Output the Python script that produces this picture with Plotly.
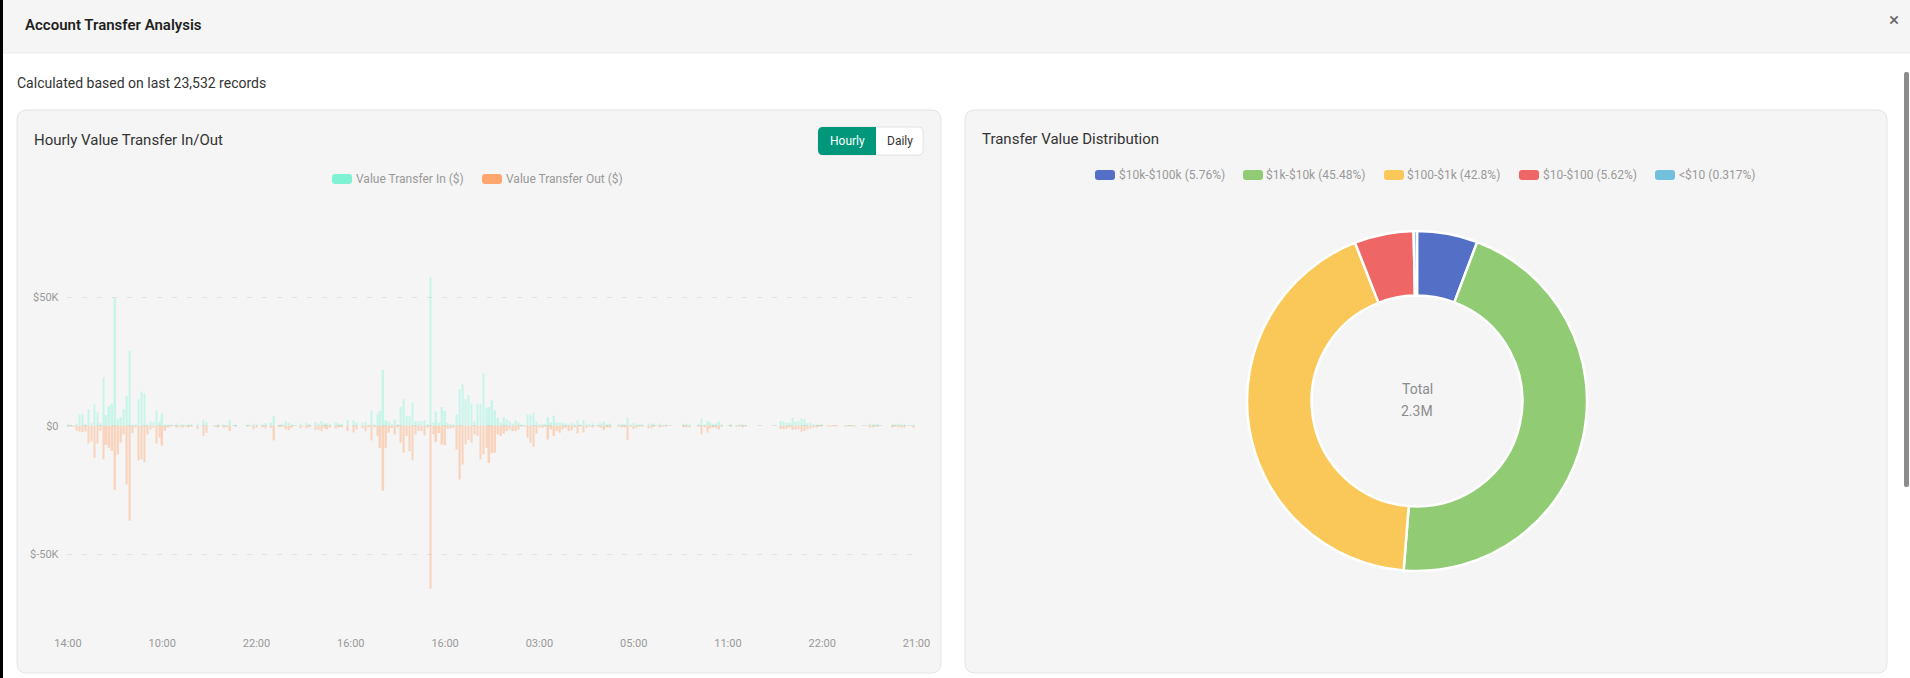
import plotly.graph_objects as go

# ---------------- data ----------------
hour_tick_labels = ["14:00", "10:00", "22:00", "16:00", "16:00", "03:00", "05:00", "11:00", "22:00", "21:00"]
hours_per_label = 32

# value transferred in, per hour ($K)
hourly_in_k = [
    0.2, 0.2, 0.1, 0.8, 4.4, 4.7, 0.5, 6.5, 1.0, 8.3,
    5.1, 1.0, 18.8, 4.2, 7.7, 8.6, 50.0, 2.5, 3.4, 6.4,
    11.6, 29.2, 0.3, 0.5, 10.3, 13.3, 12.5, 0.3, 1.5, 1.2,
    6.0, 1.6, 4.8, 0.5, 0.3, 0.2, 0, 0.9, 0.1, 0.5,
    0.1, 0.3, 0.2, 0, 0.9, 0, 2.5, 1.4, 0, 0,
    0.1, 0.2, 0, 0.2, 0.1, 2.1, 0, 0.2, 0, 0,
    0, 0.2, 0, 0.9, 0.3, 0, 0.5, 1.0, 0, 1.2,
    3.8, 0, 0.5, 0.2, 1.8, 1.2, 0.5, 0, 0, 0.8,
    0, 1.0, 0.3, 0, 1.4, 0.8, 1.8, 0.9, 0.8, 0.3,
    0, 1.2, 0.8, 0.3, 0, 2.1, 0, 2.2, 1.2, 0,
    1.2, 1.6, 0, 6.0, 0.3, 4.4, 5.7, 21.7, 2.1, 1.6,
    0.3, 2.5, 0.3, 7.3, 10.3, 3.8, 3.8, 9.0, 1.8, 1.6,
    1.8, 2.1, 0.5, 58.0, 1.2, 5.5, 1.2, 7.3, 5.7, 1.0,
    0.5, 0.5, 4.4, 14.2, 16.1, 10.3, 12.0, 8.6, 1.8, 8.6,
    8.3, 20.3, 6.8, 7.3, 9.9, 6.0, 3.1, 1.2, 3.4, 2.5,
    1.6, 0.8, 2.1, 1.2, 0.2, 0.1, 4.4, 4.2, 5.1, 1.5,
    0.3, 0.5, 0.3, 3.4, 1.2, 3.9, 1.2, 1.2, 1.2, 0.8,
    0.5, 1.2, 0.3, 2.1, 0.2, 2.3, 0.8, 0.2, 0.9, 0,
    0.2, 0.8, 1.6, 0.3, 0.8, 0, 0, 0.2, 0.3, 0.2,
    3.1, 0.2, 1.0, 0.5, 0.2, 0.2, 0, 0.8, 0.8, 0.2,
    0, 0.8, 0.1, 0.2, 0, 0, 0, 0, 0, 0.3,
    0.8, 0.3, 0, 0, 0.2, 2.9, 0.5, 1.8, 1.3, 0.3,
    0.8, 1.6, 0.2, 0, 0, 0.2, 0, 0.1, 0.2, 0.2,
    0.1, 0, 0, 0, 0, 0, 0, 0, 0, 0,
    0, 0, 1.8, 1.6, 1.0, 1.2, 3.1, 1.5, 1.8, 2.9,
    2.6, 1.0, 1.2, 0.5, 0.3, 0.1, 0.2, 0, 0, 0,
    0, 0, 0, 0, 0.1, 0.1, 0.1, 0.1, 0, 0,
    0, 0, 0.8, 0.3, 0.2, 0.2, 0, 0, 0, 0,
    0.3, 0.2, 0.8, 0.3, 0.3, 0, 0, 0.2, 0,
]

# value transferred out, per hour ($K, shown below zero)
hourly_out_k = [
    0.2, 0.2, 0.1, 2.0, 2.3, 2.6, 2.3, 6.9, 6.2, 12.5,
    6.9, 2.0, 13.1, 7.4, 8.6, 9.9, 24.9, 11.2, 6.5, 3.4,
    22.9, 37.0, 2.8, 0.5, 13.5, 13.1, 14.2, 3.4, 1.5, 0.8,
    6.9, 4.7, 7.7, 2.0, 0.5, 0.2, 0, 0.8, 0.1, 0.5,
    0.1, 0.3, 0.2, 0, 1.2, 0, 4.0, 2.7, 0, 0,
    0.1, 0.3, 0, 0.8, 0.1, 2.1, 0, 0.2, 0, 0,
    0, 0.2, 0, 1.4, 0.5, 0, 0.5, 1.0, 0, 0.8,
    5.7, 0, 0.5, 0.2, 1.4, 1.7, 0.8, 0, 0, 1.0,
    0.2, 1.0, 0.3, 0, 1.6, 1.6, 2.1, 1.0, 1.4, 0.3,
    0, 1.0, 0.8, 0.3, 0, 2.1, 0, 2.6, 1.4, 0,
    1.0, 2.1, 0.3, 5.7, 0.3, 4.0, 8.6, 25.3, 8.6, 2.7,
    0.8, 3.4, 0.5, 6.6, 10.5, 4.0, 9.9, 13.5, 3.4, 2.1,
    2.1, 3.8, 0.8, 63.5, 3.4, 6.4, 2.8, 7.3, 7.6, 1.2,
    1.0, 0.8, 9.2, 21.0, 15.1, 7.3, 5.5, 6.6, 3.4, 4.0,
    13.1, 11.2, 8.6, 14.5, 10.7, 10.5, 3.4, 4.0, 3.1, 2.1,
    1.5, 2.1, 2.1, 1.4, 0.2, 0.1, 4.7, 6.6, 8.3, 3.0,
    0.3, 0.8, 0.2, 5.4, 1.4, 4.0, 2.1, 2.7, 1.4, 1.0,
    2.1, 1.8, 0.5, 3.0, 0.2, 2.6, 0.8, 0.2, 0.8, 0,
    0.2, 0.8, 1.6, 0.3, 0.8, 0, 0, 0.2, 0.3, 0.3,
    5.5, 0.2, 1.3, 0.8, 0.2, 0.2, 0, 1.0, 1.0, 0.2,
    0, 0.5, 0.1, 0.2, 0, 0, 0, 0, 0, 0.3,
    0.5, 0.3, 0, 0, 0.2, 3.4, 0.5, 2.6, 1.0, 0.3,
    0.8, 1.4, 0.2, 0, 0, 0.2, 0, 0.1, 0.2, 0.3,
    0.1, 0, 0, 0, 0, 0, 0, 0, 0, 0,
    0, 0, 1.2, 1.4, 1.2, 0.8, 1.7, 1.5, 1.4, 2.3,
    2.0, 1.4, 1.0, 0.5, 0.3, 0.1, 0.2, 0, 0.15, 0.15,
    0.15, 0.15, 0, 0, 0.1, 0.1, 0.1, 0.1, 0, 0,
    0, 0, 0.5, 0.3, 0.2, 0.2, 0, 0, 0, 0,
    0.3, 0.2, 0.3, 0.3, 0.3, 0, 0, 0.8, 0,
]

y_tick_values = [-80000, -50000, 0, 50000]
y_tick_labels = ["", "$-50K", "$0", "$50K"]

dist_labels = ["$10k-$100k", "$1k-$10k", "$100-$1k", "$10-$100", "<$10"]
dist_pct = [5.76, 45.48, 42.8, 5.62, 0.317]
dist_colors = ["#5470c6", "#91cc75", "#fac858", "#ee6666", "#73c0de"]
dist_total_text = "2.3M"
records_count = "23,532"

series_names = ["Value Transfer In ($)", "Value Transfer Out ($)"]
in_color = "rgb(128,242,212)"
out_color = "rgb(255,165,110)"

# ---------------- helpers ----------------
W, H = 1910, 678
FONT = "Roboto"


def fx(x):
    return x / W


def fy(y):
    return 1 - y / H


def rrect_path(x0, y0, x1, y1, r, corners=(1, 1, 1, 1)):
    tl, tr, br, bl = [r if c else 0 for c in corners]
    p = f"M {fx(x0 + tl)},{fy(y0)} L {fx(x1 - tr)},{fy(y0)} "
    if tr:
        p += f"Q {fx(x1)},{fy(y0)} {fx(x1)},{fy(y0 + tr)} "
    p += f"L {fx(x1)},{fy(y1 - br)} "
    if br:
        p += f"Q {fx(x1)},{fy(y1)} {fx(x1 - br)},{fy(y1)} "
    p += f"L {fx(x0 + bl)},{fy(y1)} "
    if bl:
        p += f"Q {fx(x0)},{fy(y1)} {fx(x0)},{fy(y1 - bl)} "
    p += f"L {fx(x0)},{fy(y0 + tl)} "
    if tl:
        p += f"Q {fx(x0)},{fy(y0)} {fx(x0 + tl)},{fy(y0)} "
    p += "Z"
    return p


shapes = []
annotations = []


def add_rect(x0, y0, x1, y1, fill, r=0, line_color=None, line_width=0, corners=(1, 1, 1, 1), layer="below"):
    line = dict(width=line_width, color=line_color or fill)
    if r:
        shapes.append(dict(type="path", xref="paper", yref="paper", path=rrect_path(x0, y0, x1, y1, r, corners),
                           fillcolor=fill, line=line, layer=layer))
    else:
        shapes.append(dict(type="rect", xref="paper", yref="paper", x0=fx(x0), x1=fx(x1), y0=fy(y1), y1=fy(y0),
                           fillcolor=fill, line=line, layer=layer))


def add_text(text, x, y, size, color, anchor="left", weight="normal"):
    annotations.append(dict(text=text, xref="paper", yref="paper", x=fx(x), y=fy(y), xanchor=anchor,
                            yanchor="middle", showarrow=False, borderpad=0,
                            font=dict(family=FONT, size=size, color=color, weight=weight)))


# ---------------- page chrome ----------------
add_rect(0, 0, W, 53, "#f5f5f5")
shapes.append(dict(type="line", xref="paper", yref="paper", x0=0, x1=1, y0=fy(53), y1=fy(53),
                   line=dict(color="#ececec", width=1), layer="below"))
add_rect(0, 0, 3, H, "#000000")
add_rect(1904, 72, 1909, 487, "#8c8c8c", r=2)
add_text("Account Transfer Analysis", 24, 25, 15, "#1f1f1f", weight=600)
add_text("×", 1894, 20, 19, "#666666", anchor="center")
add_text(f"Calculated based on last {records_count} records", 16, 83, 14, "#333333")

# panels
add_rect(17, 110, 941, 673, "#f5f5f5", r=10, line_color="#e4e4e4", line_width=1)
add_rect(965, 110, 1887, 673, "#f5f5f5", r=10, line_color="#e4e4e4", line_width=1)

# left panel header
add_text("Hourly Value Transfer In/Out", 33, 140, 15, "#333333")
add_rect(818, 127, 923, 155, "#ffffff", r=5, line_color="#e2e2e2", line_width=1)
add_rect(818, 127, 876, 155, "#00977b", r=5, corners=(1, 0, 0, 1))
add_text("Hourly", 847, 141, 12, "#ffffff", anchor="center")
add_text("Daily", 899.5, 141, 12, "#333333", anchor="center")

# bar legend
for name, col, mx, tx in zip(series_names, [in_color, out_color], [332, 482], [355, 505]):
    add_rect(mx, 174, mx + 20, 184, col, r=3, layer="above")
    add_text(name, tx, 179, 12, "#999999")

# right panel header + legend
add_text("Transfer Value Distribution", 981, 139, 15, "#333333")
for lab, pct, col, mx, tx in zip(dist_labels, dist_pct, dist_colors,
                                 [1095, 1243, 1384, 1519, 1655], [1118, 1265, 1406, 1542, 1678]):
    add_rect(mx, 170, mx + 20, 180, col, r=3, layer="above")
    add_text(f"{lab.replace('<', '&lt;')} ({pct}%)", tx, 175, 12, "#999999")

add_text("Total", 1417, 389, 14, "#8c8c8c", anchor="center")
add_text(dist_total_text, 1417, 411, 14, "#8c8c8c", anchor="center")

# ---------------- traces ----------------
n = len(hourly_in_k)
idx = list(range(n))
fig = go.Figure()
fig.add_trace(go.Bar(x=idx, y=[v * 1000 for v in hourly_in_k], name=series_names[0],
                     marker=dict(color=in_color, opacity=0.38, line=dict(width=0)), hoverinfo="skip"))
fig.add_trace(go.Bar(x=idx, y=[-v * 1000 for v in hourly_out_k], name=series_names[1],
                     marker=dict(color=out_color, opacity=0.42, line=dict(width=0)), hoverinfo="skip"))

fig.add_trace(go.Pie(labels=dist_labels, values=dist_pct, marker=dict(colors=dist_colors, line=dict(color="#ffffff", width=2.5)),
                     hole=0.62, sort=False, direction="clockwise", rotation=0, textinfo="none", hoverinfo="skip",
                     automargin=False,
                     domain=dict(x=[fx(1247), fx(1587)], y=[fy(571), fy(231)])))

tick_idx = list(range(0, n, hours_per_label))

fig.update_layout(
    template="none",
    width=W, height=H, autosize=False,
    margin=dict(l=0, r=0, t=0, b=0, pad=0, autoexpand=False),
    paper_bgcolor="#ffffff", plot_bgcolor="rgba(0,0,0,0)",
    showlegend=False, barmode="relative", bargap=0.45,
    font=dict(family=FONT),
    xaxis=dict(domain=[fx(66.5), fx(918)], range=[-0.5, n - 0.5], tickmode="array", tickvals=tick_idx,
               ticktext=hour_tick_labels, showgrid=False, zeroline=False, showline=False, ticks="",
               automargin=False,
               tickfont=dict(size=11, color="#999999"), ticklabelstandoff=4, fixedrange=True),
    yaxis=dict(domain=[fy(631), fy(220.4)], range=[-80000, 80000], tickmode="array", tickvals=y_tick_values,
               ticktext=y_tick_labels, showgrid=True, gridcolor="#e3e3e3", griddash="5px,10px", gridwidth=1,
               automargin=False,
               zeroline=False, showline=False, ticks="", tickfont=dict(size=11, color="#999999"),
               ticklabelstandoff=7, fixedrange=True),
    shapes=shapes, annotations=annotations,
)

fig.write_html("out.html", config=dict(displayModeBar=False))
